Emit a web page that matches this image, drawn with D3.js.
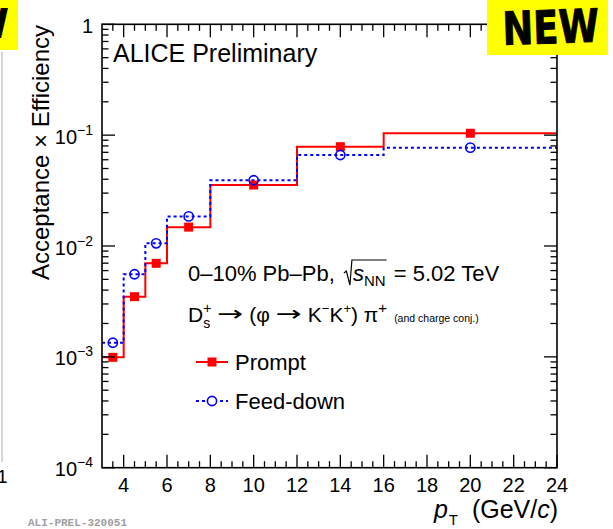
<!DOCTYPE html>
<html><head><meta charset="utf-8">
<script src="https://cdn.jsdelivr.net/npm/d3@7"></script>
<style>
html,body{margin:0;padding:0;background:#fff;}
svg{display:block;font-family:"Liberation Sans",Arial,Helvetica,sans-serif;}
</style></head>
<body>
<svg id="c" width="613" height="529"></svg>
<script>
// ---- data ----
const binEdges = [3, 4, 5, 6, 8, 12, 16, 24];
const binCenters = [3.5, 4.5, 5.5, 7, 10, 14, 20];
const prompt = [0.00099, 0.00349, 0.00698, 0.0148, 0.0355, 0.0787, 0.104];
const feedDown = [0.00134, 0.00556, 0.01057, 0.0185, 0.0392, 0.0662, 0.0771];
const xTickLabels = [4, 6, 8, 10, 12, 14, 16, 18, 20, 22, 24];
const yDecades = [1e-4, 1e-3, 1e-2, 1e-1, 1];
const yDecadeLabels = [["10","−4"],["10","−3"],["10","−2"],["10","−1"],["1",""]];

const svg = d3.select("#c");
const L = 102, R = 557, T = 24.3, B = 467.7;
const x = d3.scaleLinear().domain([3, 24]).range([L, R]);
const y = d3.scaleLog().domain([1e-4, 1]).range([B, T]);

// ---- side decorations (neighbouring slide remnants) ----
svg.append("line").attr("x1",2).attr("x2",2).attr("y1",52).attr("y2",462)
  .attr("stroke","#c8c8c8").attr("stroke-width",1.5);
svg.append("text").attr("x",-3).attr("y",483).attr("font-size",19).text("1");

// ---- histograms ----
function stepPts(vals){
  const pts = vals.map((v,i)=>[binEdges[i], v]);
  pts.push([binEdges[binEdges.length-1], vals[vals.length-1]]);
  return pts;
}
const line = d3.line().x(d=>x(d[0])).y(d=>y(d[1])).curve(d3.curveStepAfter);
const g = svg.append("g");
g.append("path").attr("d", line(stepPts(prompt))).attr("fill","none")
  .attr("stroke","#ff0000").attr("stroke-width",2);
g.append("path").attr("d", line(stepPts(feedDown))).attr("fill","none")
  .attr("stroke","#0000ff").attr("stroke-width",2).attr("stroke-dasharray","3,3");
g.selectAll("rect.pm").data(prompt).enter().append("rect")
  .attr("x",(d,i)=>x(binCenters[i])-4.5).attr("y",d=>y(d)-4.5)
  .attr("width",9).attr("height",9).attr("fill","#ff0000");
g.selectAll("circle.fm").data(feedDown).enter().append("circle")
  .attr("cx",(d,i)=>x(binCenters[i])).attr("cy",d=>y(d)).attr("r",4.6)
  .attr("fill","none").attr("stroke","#0000ff").attr("stroke-width",1.6);

// ---- frame and ticks ----
const ax = svg.append("g").attr("stroke","#000").attr("stroke-width",1.3);
ax.append("rect").attr("x",L).attr("y",T).attr("width",R-L).attr("height",B-T)
  .attr("fill","none").attr("stroke-width",1.6);
const xMinor = d3.range(3.5, 24, 0.5).filter(v=>v%2!==0);
xTickLabels.forEach(v=>{
  ax.append("line").attr("x1",x(v)).attr("x2",x(v)).attr("y1",B).attr("y2",B-13);
  ax.append("line").attr("x1",x(v)).attr("x2",x(v)).attr("y1",T).attr("y2",T+13);
});
xMinor.forEach(v=>{
  ax.append("line").attr("x1",x(v)).attr("x2",x(v)).attr("y1",B).attr("y2",B-6.5);
  ax.append("line").attr("x1",x(v)).attr("x2",x(v)).attr("y1",T).attr("y2",T+6.5);
});
yDecades.forEach(v=>{
  ax.append("line").attr("x1",L).attr("x2",L+13).attr("y1",y(v)).attr("y2",y(v));
  ax.append("line").attr("x1",R).attr("x2",R-13).attr("y1",y(v)).attr("y2",y(v));
});
yDecades.slice(0,-1).forEach(dec=>{
  for(let k=2;k<=9;k++){
    const v = dec*k;
    ax.append("line").attr("x1",L).attr("x2",L+6.5).attr("y1",y(v)).attr("y2",y(v));
    ax.append("line").attr("x1",R).attr("x2",R-6.5).attr("y1",y(v)).attr("y2",y(v));
  }
});

// ---- tick labels ----
svg.selectAll("text.xt").data(xTickLabels).enter().append("text")
  .attr("x",d=>x(d)).attr("y",492).attr("text-anchor","middle")
  .attr("font-size",20).text(d=>d);
yDecades.forEach((v,i)=>{
  const [base, exp] = yDecadeLabels[i];
  const t = svg.append("text").attr("y", y(v)+8.5).attr("font-size",20);
  t.append("tspan").text(base);
  if(exp) t.append("tspan").attr("font-size",14).attr("dy",-9).text(exp);
  const w = t.node().getComputedTextLength();
  t.attr("x", 93 - w);
});

// ---- axis titles ----
svg.append("text").attr("transform","translate(48.5,25) rotate(-90)")
  .attr("text-anchor","end").attr("font-size",24).text("Acceptance × Efficiency");
const xt = svg.append("text").attr("y",518).attr("font-size",25);
xt.append("tspan").attr("font-style","italic").text("p");
xt.append("tspan").attr("font-size",15).attr("dy",7).attr("dx",1).text("T");
xt.append("tspan").attr("dy",-7).attr("xml:space","preserve").text("  (GeV/");
xt.append("tspan").attr("font-style","italic").text("c");
xt.append("tspan").text(")");
xt.attr("x", R - xt.node().getComputedTextLength());

// ---- labels ----
svg.append("text").attr("x",113).attr("y",62).attr("font-size",25).text("ALICE Preliminary");

// line 1 : 0–10% Pb–Pb, sqrt(sNN) = 5.02 TeV
(function(){
  const by = 281, x0 = 188;
  const t1 = svg.append("text").attr("x",x0).attr("y",by).attr("font-size",22).attr("xml:space","preserve").text("0–10% Pb–Pb, ");
  let cx = x0 + t1.node().getComputedTextLength() + 3;
  const rx = cx;
  const t2 = svg.append("text").attr("x",cx+9).attr("y",by).attr("font-size",22).attr("font-style","italic").text("s");
  let cx2 = cx + 9 + t2.node().getComputedTextLength();
  const t3 = svg.append("text").attr("x",cx2).attr("y",by+5).attr("font-size",15).text("NN");
  const endR = cx2 + t3.node().getComputedTextLength() + 1;
  svg.append("path").attr("d",`M${rx},${by-8} L${rx+2.5},${by-10} L${rx+6},${by+4} L${rx+8},${by-21} L${endR},${by-21}`)
    .attr("fill","none").attr("stroke","#000").attr("stroke-width",1.2);
  svg.append("text").attr("x",endR+1).attr("y",by).attr("font-size",22).attr("xml:space","preserve").text(" = 5.02 TeV");
})();

// line 2 : Ds+ -> (phi -> K-K+) pi+ (and charge conj.)
(function(){
  const by = 322;
  let cx = 188;
  function seg(txt, size, dy, fam, len){
    const t = svg.append("text").attr("x",cx).attr("y",by+dy).attr("font-size",size)
      .attr("xml:space","preserve").text(txt);
    if(fam) t.attr("font-family",fam);
    if(len){ t.attr("textLength",len).attr("lengthAdjust","spacingAndGlyphs"); return len; }
    return t.node().getComputedTextLength();
  }
  cx += seg("D",21,0);
  const ws = seg("s",14,6);
  const wp = seg("+",14,-9);
  cx += Math.max(ws,wp) + 6;
  cx += seg("→",21,-1,"DejaVu Sans",26) + 6;
  cx += seg("(φ ",21,0);
  cx += seg("→",21,-1,"DejaVu Sans",26) + 6;
  cx += seg("K",21,0);
  cx += seg("−",13,-9);
  cx += seg("K",21,0);
  cx += seg("+",13,-9);
  cx += seg(") π",21,0);
  cx += seg("+",15,-9);
  cx += 7;
  seg("(and charge conj.)",10.5,0);
})();

// ---- legend ----
const lg = svg.append("g");
lg.append("line").attr("x1",196).attr("x2",228).attr("y1",362).attr("y2",362)
  .attr("stroke","#ff0000").attr("stroke-width",2);
lg.append("rect").attr("x",212-4.5).attr("y",362-4.5).attr("width",9).attr("height",9).attr("fill","#ff0000");
lg.append("text").attr("x",235).attr("y",370).attr("font-size",22).text("Prompt");
lg.append("line").attr("x1",196).attr("x2",228).attr("y1",401).attr("y2",401)
  .attr("stroke","#0000ff").attr("stroke-width",2).attr("stroke-dasharray","3,3");
lg.append("circle").attr("cx",212).attr("cy",401).attr("r",4.6).attr("fill","#fff")
  .attr("stroke","#0000ff").attr("stroke-width",1.6);
lg.append("text").attr("x",235).attr("y",409).attr("font-size",22).text("Feed-down");

// ---- footer ----
svg.append("text").attr("x",28).attr("y",526).attr("font-family","Liberation Mono, monospace")
  .attr("font-weight","bold").attr("font-size",11).attr("fill","#a0a0a0").text("ALI-PREL-320051");

// ---- NEW badges ----
svg.append("rect").attr("x",0).attr("y",0).attr("width",18).attr("height",50).attr("fill","#ffff00");
svg.append("text").attr("x",9).attr("y",38).attr("text-anchor","end").attr("font-family","DejaVu Sans")
  .attr("font-weight","bold").attr("font-size",40).text("NEW");
svg.append("rect").attr("x",487).attr("y",0).attr("width",121).attr("height",55).attr("fill","#ffff00");
svg.append("text").attr("transform","translate(503,45) rotate(-2) scale(0.92,1.15)")
  .attr("font-family","DejaVu Sans").attr("font-weight","bold").attr("font-size",40)
  .attr("stroke","#000").attr("stroke-width",0.8).attr("stroke-linejoin","round").text("NEW");
</script>
</body></html>
